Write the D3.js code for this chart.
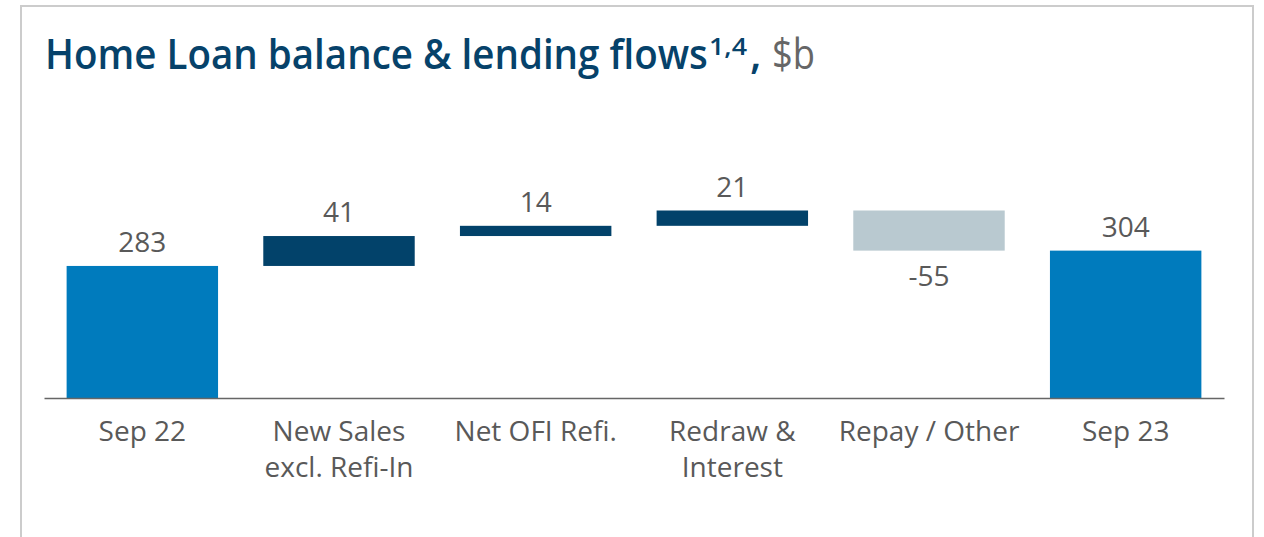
<!DOCTYPE html>
<html>
<head>
<meta charset="utf-8">
<script src="https://cdn.jsdelivr.net/npm/d3@7"></script>
<style>
  html, body { margin: 0; padding: 0; background: #fff; }
  svg { display: block; }
</style>
</head>
<body>
<svg id="chart" width="1264" height="537"></svg>
<script>
// ---- data ----
const categories = ["Sep 22", "New Sales\nexcl. Refi-In", "Net OFI Refi.", "Redraw &\nInterest", "Repay / Other", "Sep 23"];
const values = [283, 41, 14, 21, -55, 304];
const kinds = ["total", "increase", "increase", "increase", "decrease", "total"];
const valueLabels = ["283", "41", "14", "21", "-55", "304"];
const titleMain = "Home Loan balance & lending flows";
const titleSup = "1,4";
const titleUnit = "$b";

// ---- build waterfall rows ----
let running = 0;
const rows = categories.map((c, i) => {
  let y0, y1;
  if (kinds[i] === "total") { y0 = null; y1 = values[i]; running = values[i]; }
  else { y0 = running; y1 = running + values[i]; running = y1; }
  return { cat: c, value: values[i], kind: kinds[i], label: valueLabels[i], y0, y1 };
});

const svg = d3.select("#chart");
const colors = { total: "#007bbd", increase: "#02426a", decrease: "#b9c9d0" };
const textColor = "#595959";
const font = "'Open Sans', 'Noto Sans', sans-serif";

// frame
svg.append("rect")
  .attr("x", 21).attr("y", 6).attr("width", 1232).attr("height", 620)
  .attr("fill", "none").attr("stroke", "#cccccc").attr("stroke-width", 2);

// scales
const x = d3.scaleBand().domain(categories).range([44, 1224]).paddingInner(0.23).paddingOuter(0.115);
const yBase = 102;
const y = d3.scaleLinear().domain([yBase, 359]).range([398, 210.5]);

// bars
svg.append("g").selectAll("rect").data(rows).join("rect")
  .attr("x", d => x(d.cat))
  .attr("width", x.bandwidth())
  .attr("y", d => d.kind === "total" ? y(d.y1) : y(Math.max(d.y0, d.y1)))
  .attr("height", d => d.kind === "total" ? y(yBase) - y(d.y1) : Math.abs(y(d.y0) - y(d.y1)))
  .attr("fill", d => colors[d.kind]);

// value labels
svg.append("g").selectAll("text").data(rows).join("text")
  .attr("x", d => x(d.cat) + x.bandwidth() / 2)
  .attr("y", d => {
    if (d.kind === "total") return y(d.y1) - 14;
    if (d.value >= 0) return y(d.y1) - 14;
    return y(d.y1) + 35;
  })
  .attr("text-anchor", "middle")
  .attr("font-family", font).attr("font-size", 28)
  .attr("fill", textColor)
  .text(d => d.label);

// x axis
const axis = svg.append("g").attr("transform", "translate(0,398)")
  .call(d3.axisBottom(x).tickSize(0).tickSizeOuter(0).tickFormat(""));
axis.select(".domain").attr("stroke", "#666666").attr("stroke-width", 1.6);
axis.selectAll(".tick text").remove();
axis.selectAll(".tick").each(function(d) {
  const lines = d.split("\n");
  const t = d3.select(this).append("text")
    .attr("text-anchor", "middle")
    .attr("font-family", font).attr("font-size", 28)
    .attr("fill", textColor);
  lines.forEach((ln, i) => {
    t.append("tspan").attr("x", 0).attr("y", 42.7 + i * 36.6).text(ln);
  });
});

// title: each piece horizontally condensed to the reference width
function fitText(str, px, py, targetW, size, weight, fill) {
  const g = svg.append("g");
  const t = g.append("text")
    .attr("x", 0).attr("y", py)
    .attr("font-family", font).attr("font-weight", weight).attr("font-size", size)
    .attr("fill", fill).text(str);
  const natural = t.node().getComputedTextLength();
  const s = targetW ? targetW / natural : 1;
  g.attr("transform", `translate(${px},0) scale(${s},1)`);
  return g;
}
fitText(titleMain, 45, 69, 663, 42, 600, "#06426a");
fitText(titleSup, 709, 55, 38, 24, 600, "#06426a");
fitText(",", 750, 69, null, 42, 600, "#06426a");
fitText(titleUnit, 772, 69, 43, 42, 400, "#666666");
</script>
</body>
</html>
